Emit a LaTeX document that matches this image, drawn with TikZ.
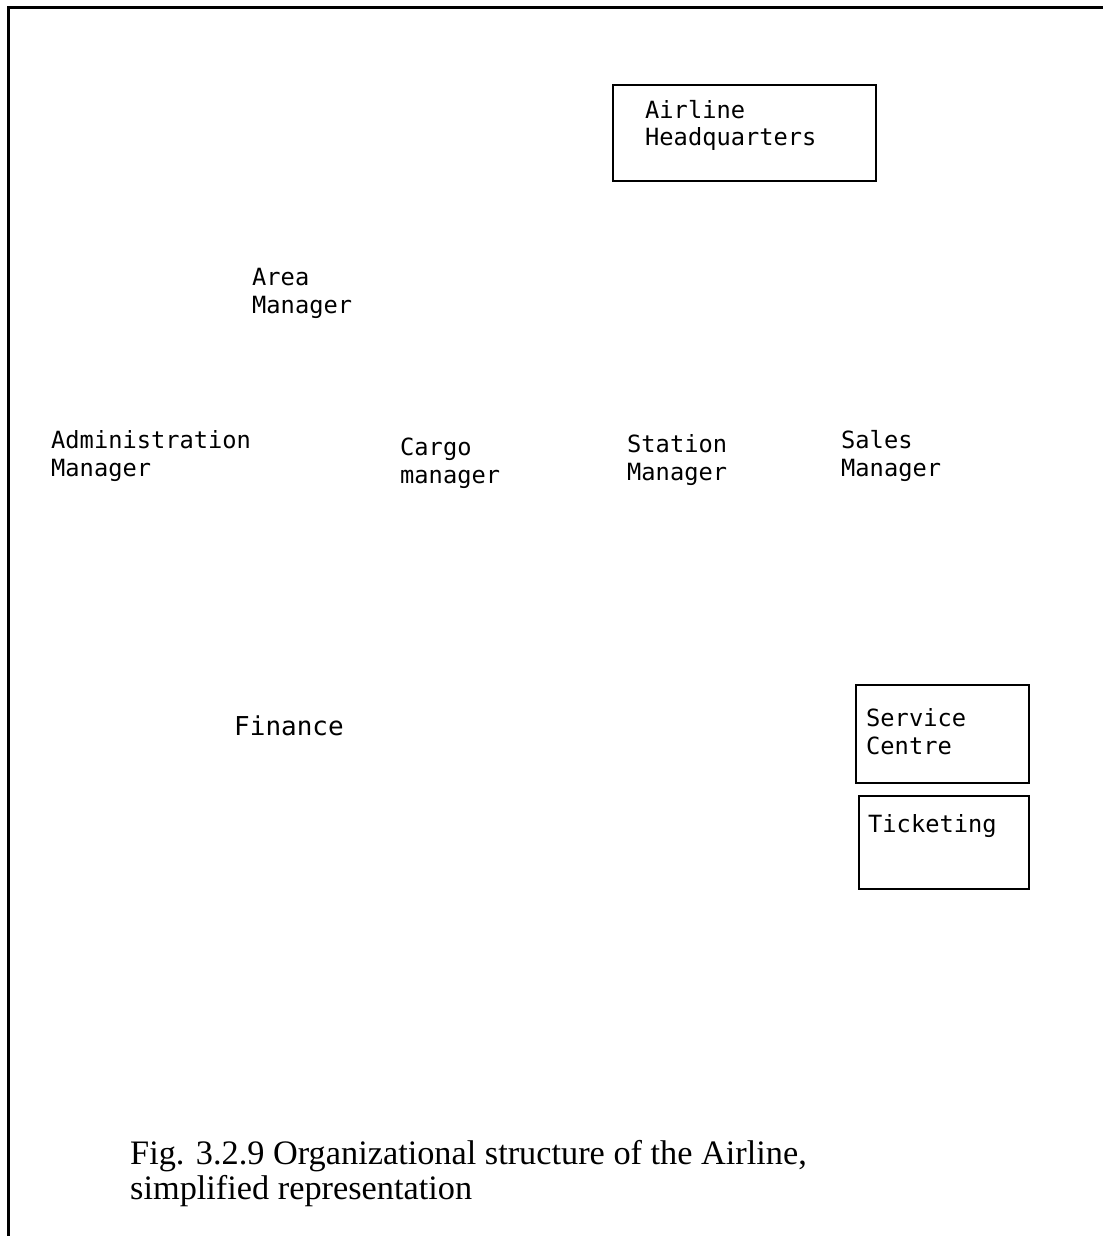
\documentclass[tikz,border=0pt]{standalone}
\usepackage{fontspec}
\setmainfont{Liberation Serif}
\setmonofont{DejaVu Sans Mono}
\begin{document}
\begin{tikzpicture}[x=1pt,y=-1pt,
  lbl/.style={anchor=base west, inner sep=0pt, align=left,
    font=\ttfamily\fontsize{23.7}{28}\selectfont},
  bigl/.style={lbl, font=\ttfamily\fontsize{26}{30}\selectfont},
  box/.style={draw, line width=2pt, anchor=north west, inner sep=0pt},
  caption/.style={anchor=base west, inner sep=0pt, align=left,
    font=\fontsize{34.3}{35}\selectfont}]
  \useasboundingbox (0,0) rectangle (1103,1236);
  % frame: top and left edges only
  \draw[line width=3pt] (8,1236) -- (8,8) -- (1103,8);

  % headquarters (label positions give the baseline of the last line)
  \node[box, minimum width=263, minimum height=96] (hqbox) at (612,84) {};
  \node[lbl] (hq) at (645,146) {Airline\\Headquarters};

  % managers
  \node[lbl] (area) at (252,313) {Area\\Manager};
  \node[lbl] (admin) at (51,476) {Administration\\Manager};
  \node[lbl] (cargo) at (400,483) {Cargo\\manager};
  \node[lbl] (station) at (627,480) {Station\\Manager};
  \node[lbl] (sales) at (841,476) {Sales\\Manager};

  % finance
  \node[bigl] (finance) at (234,735) {Finance};

  % sales units
  \node[box, minimum width=173, minimum height=98] (svcbox) at (855,684) {};
  \node[lbl] (svc) at (866,754) {Service\\Centre};
  \node[box, minimum width=170, minimum height=93] (tktbox) at (858,795) {};
  \node[lbl] (tkt) at (868,832) {Ticketing};

  % caption
  \node[caption] (cap) at (130,1199) {Fig. 3.2.9 Organizational structure of the Airline,\\simplified representation};
\end{tikzpicture}
\end{document}
